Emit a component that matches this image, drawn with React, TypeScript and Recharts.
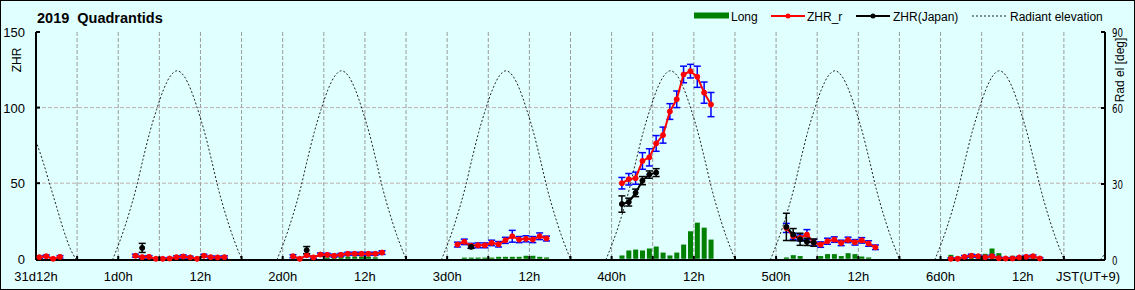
import React from 'react';
import { ComposedChart, Line, Bar, XAxis, YAxis, CartesianGrid, ErrorBar } from 'recharts';

const FONT = "'Liberation Sans', Arial, 'DejaVu Sans', sans-serif";
const NARROW = "'Liberation Sans Narrow', 'DejaVu Sans Condensed', 'Liberation Sans', sans-serif";
const BG = '#E0FFFF';

// x axis: hours after Dec 31, 12h JST
const gridHours = [0, 6, 12, 18, 24, 30, 36, 42, 48, 54, 60, 66, 72, 78, 84, 90, 96, 102, 108, 114, 120, 126, 132, 138, 144, 150, 156];
const labelHours = [0, 12, 24, 36, 48, 60, 72, 84, 96, 108, 120, 132, 144, 156];
const labelTexts = ['31d12h', '1d0h', '12h', '2d0h', '12h', '3d0h', '12h', '4d0h', '12h', '5d0h', '12h', '6d0h', '12h', 'JST(UT+9)'];
const zhrTicks = [0, 50, 100, 150];
const elevTicks = [0, 30, 60, 90];

// ZHR_r (hourly bins; first bin centre of each run)
const zhrRStarts = [0.5, 14.5, 37.5, 61.5, 85.5, 109.5, 133.5];
const zhrRValues = [
  [1.1, 1.7, 0, 1.3],
  [2, 1.1, 1.3, 0, 0, 0.2, 1.1, 1.5, 0.9, 0, 2, 1.1, 0.9, 1.1],
  [1.7, 0, 2.4, 0.9, 2.8, 2.6, 2, 2.6, 3.3, 3.3, 3.3, 3.3, 3.3, 4.1],
  [9.4, 11.2, 8.6, 8.9, 8.9, 10.5, 9.6, 12.2, 14.9, 12.7, 13.2, 12.7, 14.9, 13.4],
  [50, 52.6, 53.3, 64.7, 67.1, 76.3, 81.8, 97.4, 105.5, 121.9, 124.1, 120.4, 109.9, 102],
  [20.4, 14.9, 13.8, 16, 10.7, 9.4, 11.6, 12.7, 10.5, 12.5, 10.9, 12.2, 10.1, 7.6],
  [0, 0, 1.3, 2, 1.7, 1, 1.7, 0.4, 0.2, 0.2, 0.9, 1.3, 1.7, 0.2],
];
const zhrRErrors = [
  [0.8, 0.8, 0.6, 0.8],
  [1, 0.8, 0.8, 0.6, 0.6, 0.6, 0.8, 1, 0.8, 0.6, 1, 0.8, 0.8, 0.8],
  [1, 0.8, 1, 0.8, 1, 1, 1, 1, 1, 1, 1, 1, 1, 1.2],
  [1.6, 1.8, 1.6, 1.6, 1.6, 1.8, 1.8, 2, 3.9, 2, 2, 2, 2.2, 1.6],
  [3.8, 3.8, 4, 5.5, 5.7, 5.2, 5.3, 5.2, 5.5, 5.5, 4.5, 7, 7, 8],
  [3, 2, 2, 3.3, 2, 1.8, 2, 1.8, 1.8, 1.8, 1.8, 1.8, 1.8, 1.5],
  [0.6, 0.6, 0.8, 1, 0.8, 0.8, 0.8, 0.6, 0.6, 0.6, 0.6, 0.8, 0.8, 0.6],
];

// ZHR(Japan)
const zhrJStarts = [15.5, 39.5, 63.5, 85.5, 109.5];
const zhrJValues = [
  [7.2],
  [5.7],
  [7.9],
  [36.2, 37.5, 43.6, 51.7, 55.7, 57],
  [21.1, 16, 12.9, 11.2, 10.7],
];
const zhrJErrors = [
  [3],
  [2.4],
  [1],
  [5.4, 2.6, 2.5, 2.7, 2.4, 2.6],
  [9, 4, 4, 2.4, 2.4],
];

// Long (hourly bins)
const longStarts = [0.5, 17.5, 42.5, 62.5, 85.5, 109.5, 133.5];
const longValues = [
  [0.4],
  [0.5, 0.5, 0.5],
  [0.9, 1.3, 1.3, 1.5, 1.5, 1.5, 1.5, 1.0],
  [0.8, 0.8, 0.8, 0.8, 0.8, 1.3, 1.3, 1.3, 1.3, 2, 2, 1.3, 0.9],
  [2.2, 5.5, 6.1, 5.5, 6.8, 8.1, 4.1, 2.2, 4.1, 9.4, 18.2, 23.9, 20.6, 12.7],
  [0.9, 2.4, 1.8, 0, 0, 1.8, 3.1, 3.1, 1.8, 3.7, 3.1, 1.5, 0.9],
  [2.6, 1.5, 0, 0.6, 2.2, 3.3, 6.8, 3.7, 1.1, 2, 1.5, 1, 1, 0.5],
];

// Radiant elevation [deg], [hour, elevation]
const radiantCycles: number[][][] = [
  [[0, 47], [1, 39], [2, 30], [3, 21], [4, 12], [5, 4.5], [5.9, 0]],
  [[11.15, 0], [11.6, 3], [12.6, 10.2], [13.6, 18.6], [14.6, 28.2], [15.6, 39.6], [16.6, 50.4], [17.6, 59.4], [18.6, 67.2], [19.6, 72.6], [20.6, 74.7], [21.6, 72.6], [22.6, 67.2], [23.6, 59.4], [24.6, 50.4], [25.6, 39.6], [26.6, 28.2], [27.6, 18.6], [28.6, 10.2], [29.6, 3], [30.05, 0]],
  [[35.15, 0], [35.6, 3], [36.6, 10.2], [37.6, 18.6], [38.6, 28.2], [39.6, 39.6], [40.6, 50.4], [41.6, 59.4], [42.6, 67.2], [43.6, 72.6], [44.6, 74.7], [45.6, 72.6], [46.6, 67.2], [47.6, 59.4], [48.6, 50.4], [49.6, 39.6], [50.6, 28.2], [51.6, 18.6], [52.6, 10.2], [53.6, 3], [54.05, 0]],
  [[59.15, 0], [59.6, 3], [60.6, 10.2], [61.6, 18.6], [62.6, 28.2], [63.6, 39.6], [64.6, 50.4], [65.6, 59.4], [66.6, 67.2], [67.6, 72.6], [68.6, 74.7], [69.6, 72.6], [70.6, 67.2], [71.6, 59.4], [72.6, 50.4], [73.6, 39.6], [74.6, 28.2], [75.6, 18.6], [76.6, 10.2], [77.6, 3], [78.05, 0]],
  [[83.15, 0], [83.6, 3], [84.6, 10.2], [85.6, 18.6], [86.6, 28.2], [87.6, 39.6], [88.6, 50.4], [89.6, 59.4], [90.6, 67.2], [91.6, 72.6], [92.6, 74.7], [93.6, 72.6], [94.6, 67.2], [95.6, 59.4], [96.6, 50.4], [97.6, 39.6], [98.6, 28.2], [99.6, 18.6], [100.6, 10.2], [101.6, 3], [102.05, 0]],
  [[107.15, 0], [107.6, 3], [108.6, 10.2], [109.6, 18.6], [110.6, 28.2], [111.6, 39.6], [112.6, 50.4], [113.6, 59.4], [114.6, 67.2], [115.6, 72.6], [116.6, 74.7], [117.6, 72.6], [118.6, 67.2], [119.6, 59.4], [120.6, 50.4], [121.6, 39.6], [122.6, 28.2], [123.6, 18.6], [124.6, 10.2], [125.6, 3], [126.05, 0]],
  [[131.15, 0], [131.6, 3], [132.6, 10.2], [133.6, 18.6], [134.6, 28.2], [135.6, 39.6], [136.6, 50.4], [137.6, 59.4], [138.6, 67.2], [139.6, 72.6], [140.6, 74.7], [141.6, 72.6], [142.6, 67.2], [143.6, 59.4], [144.6, 50.4], [145.6, 39.6], [146.6, 28.2], [147.6, 18.6], [148.6, 10.2], [149.6, 3], [150.05, 0]],
  [[155.3, 0], [156, 2.5]],
];

const zhrRSeries = zhrRStarts.map((s, i) => zhrRValues[i].map((v, j) => ({ h: s + j, v, e: zhrRErrors[i][j] })));
const zhrJSeries = zhrJStarts.map((s, i) => zhrJValues[i].map((v, j) => ({ h: s + j, v, e: zhrJErrors[i][j] })));
const longData = longStarts.flatMap((s, i) => longValues[i].map((v, j) => ({ h: s + j, v })));
const radiantSeries = radiantCycles.map((c) => c.map(([h, el]) => ({ h, el })));

const XTick = (props: any) => {
  const { x, y, payload } = props;
  const val = payload.value;
  const idx = labelHours.indexOf(val);
  const label = idx >= 0 ? labelTexts[idx] : '';
  const isLast = val === 156;
  return (
    <g>
      {val !== 0 && !isLast && <line x1={x} x2={x} y1={y} y2={y - 4} stroke="#000" strokeWidth={2} />}
      {label && (
        <text x={isLast ? x + 15 : x} y={y + 21} textAnchor={isLast ? 'end' : 'middle'} fontSize={13} fontFamily={FONT} fill="#000">
          {label}
        </text>
      )}
    </g>
  );
};

const LeftTick = (props: any) => {
  const { x, y, payload } = props;
  return (
    <g>
      {payload.value !== 0 && <line x1={x} x2={x + 4} y1={y} y2={y} stroke="#000" strokeWidth={2} />}
      <text x={x - 11} y={y + 5} textAnchor="end" fontSize={13} fontFamily={FONT} fill="#000">
        {payload.value}
      </text>
    </g>
  );
};

const RightTick = (props: any) => {
  const { x, y, payload } = props;
  return (
    <g>
      {payload.value !== 0 && <line x1={x} x2={x - 4} y1={y} y2={y} stroke="#000" strokeWidth={2} />}
      <text transform={`translate(${x + 7},${y + 5}) scale(0.8,1.05)`} textAnchor="start" fontSize={12} fontFamily={NARROW} fill="#000">
        {payload.value}
      </text>
    </g>
  );
};

export default function App() {
  return (
    <div style={{ position: 'absolute', left: 0, top: 0, width: 1135, height: 290, background: BG, overflow: 'hidden' }}>
      <div style={{ position: 'absolute', left: 0, top: 0 }}>
        <ComposedChart width={1135} height={290} data={longData} margin={{ top: 32, right: 0, bottom: 0, left: 0 }}>
          <CartesianGrid yAxisId="left" horizontal={false} stroke="#9A9A9A" strokeDasharray="4 2" />
          <CartesianGrid yAxisId="left" vertical={false} horizontalValues={[50, 100]} stroke="#BFAFAF" strokeDasharray="4 2" />
          <XAxis
            dataKey="h"
            type="number"
            domain={[0, 156]}
            ticks={gridHours}
            interval={0}
            allowDataOverflow
            height={30}
            tickSize={0}
            tickMargin={0}
            tickLine={false}
            axisLine={{ stroke: '#000', strokeWidth: 2 }}
            tick={<XTick />}
          />
          <XAxis xAxisId="bars" dataKey="h" type="number" domain={[0, 156]} allowDataOverflow hide />
          <YAxis
            yAxisId="left"
            domain={[0, 150]}
            ticks={zhrTicks}
            interval={0}
            width={36}
            tickSize={0}
            tickMargin={0}
            tickLine={false}
            axisLine={{ stroke: '#000', strokeWidth: 2 }}
            tick={<LeftTick />}
          />
          <YAxis
            yAxisId="right"
            orientation="right"
            domain={[0, 90]}
            ticks={elevTicks}
            interval={0}
            width={30}
            tickSize={0}
            tickMargin={0}
            tickLine={false}
            axisLine={{ stroke: '#000', strokeWidth: 2 }}
            tick={<RightTick />}
          />
          <Bar xAxisId="bars" yAxisId="left" dataKey="v" fill="#008000" barSize={5} isAnimationActive={false} />
          {radiantSeries.map((d, i) => (
            <Line
              key={'rad' + i}
              data={d}
              dataKey="el"
              yAxisId="right"
              type="monotone"
              stroke="#222"
              strokeWidth={1}
              strokeDasharray="2 2"
              dot={false}
              activeDot={false}
              isAnimationActive={false}
            />
          ))}
          {zhrRSeries.map((d, i) => (
            <Line
              key={'zr' + i}
              data={d}
              dataKey="v"
              yAxisId="left"
              type="linear"
              stroke="#FF0000"
              strokeWidth={2}
              dot={{ r: 2.5, fill: '#FF0000', stroke: '#FF0000', strokeWidth: 1 }}
              activeDot={false}
              isAnimationActive={false}
            >
              <ErrorBar dataKey="e" stroke="#0000FF" strokeWidth={1.5} width={3.5} isAnimationActive={false} />
            </Line>
          ))}
          {zhrJSeries.map((d, i) => (
            <Line
              key={'zj' + i}
              data={d}
              dataKey="v"
              yAxisId="left"
              type="linear"
              stroke="#000"
              strokeWidth={2}
              dot={{ r: 2.5, fill: '#000', stroke: '#000', strokeWidth: 1 }}
              activeDot={false}
              isAnimationActive={false}
            >
              <ErrorBar dataKey="e" stroke="#000" strokeWidth={1.5} width={3.5} isAnimationActive={false} />
            </Line>
          ))}
        </ComposedChart>
      </div>
      <svg width={1135} height={290} style={{ position: 'absolute', left: 0, top: 0, pointerEvents: 'none' }}>
        <text x={37} y={23} fontSize={14.5} fontWeight={700} fontFamily={FONT} fill="#000" style={{ whiteSpace: 'pre' }} xmlSpace="preserve">
          2019  Quadrantids
        </text>
        <text x={0} y={0} transform="translate(21,60) rotate(-90)" textAnchor="middle" fontSize={12} fontFamily={FONT} fill="#000">
          ZHR
        </text>
        <text x={0} y={0} transform="translate(1124,70) rotate(-90)" textAnchor="middle" fontSize={12} fontFamily={FONT} fill="#000" style={{ whiteSpace: 'pre' }} xmlSpace="preserve">
          Rad el [deg]
        </text>
        <rect x={694} y={12.5} width={35} height={6} fill="#008000" />
        <text x={731} y={21} fontSize={12} fontFamily={FONT} fill="#000">Long</text>
        <line x1={771} x2={805} y1={16} y2={16} stroke="#FF0000" strokeWidth={2} />
        <circle cx={788} cy={16} r={2.5} fill="#FF0000" />
        <text x={807} y={21} fontSize={12} fontFamily={FONT} fill="#000">ZHR_r</text>
        <line x1={856} x2={890} y1={16} y2={16} stroke="#000" strokeWidth={2} />
        <circle cx={873} cy={16} r={2.5} fill="#000" />
        <text x={893} y={21} fontSize={12} fontFamily={FONT} fill="#000">ZHR(Japan)</text>
        <line x1={972} x2={1008} y1={16} y2={16} stroke="#222" strokeWidth={1} strokeDasharray="2 2" />
        <text x={1010} y={21} fontSize={12} fontFamily={FONT} fill="#000">Radiant elevation</text>
        <rect x={0.5} y={0.5} width={1134} height={289} fill="none" stroke="#000" strokeWidth={1} />
      </svg>
    </div>
  );
}
